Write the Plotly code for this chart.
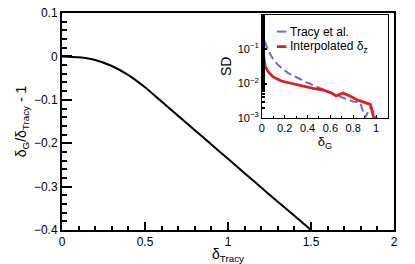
import plotly.graph_objects as go

# Main panel: relative difference vs delta_Tracy
delta_tracy = [0.0, 0.1, 0.2, 0.3, 0.4, 0.5, 0.6, 0.7, 0.8, 0.9, 1.0, 1.1, 1.2, 1.3, 1.4, 1.5]
rel_diff = [0.0, -0.002, -0.008, -0.022, -0.043, -0.071, -0.104, -0.137, -0.170,
            -0.203, -0.236, -0.269, -0.302, -0.335, -0.367, -0.400]

# Inset: SD vs delta_G
tracy_x = [0.0, 0.04, 0.085, 0.14, 0.23, 0.32, 0.4, 0.5, 0.6, 0.7, 0.8, 0.86, 0.905, 0.955, 1.0]
tracy_sd = [0.37, 0.118, 0.060, 0.035, 0.020, 0.0141, 0.0105, 0.0076, 0.0054, 0.0040,
            0.0030, 0.0028, 0.00105, 0.0021, 0.00095]
interp_x = [0.0, 0.015, 0.03, 0.055, 0.096, 0.17, 0.25, 0.35, 0.45, 0.55, 0.61, 0.65,
            0.71, 0.78, 0.84, 0.95, 0.985]
interp_sd = [0.118, 0.060, 0.031, 0.022, 0.0158, 0.0118, 0.0101, 0.0086, 0.0072, 0.0063,
             0.0053, 0.0044, 0.0053, 0.0042, 0.0033, 0.0025, 0.00089]

series_names = ["Tracy et al.", "Interpolated δ<sub>z</sub>"]
series_colors = ["#6b6bdc", "#e01e24"]

main_xticks = [0, 0.5, 1, 1.5, 2]
main_yticks = [0.1, 0, -0.1, -0.2, -0.3, -0.4]
main_yticktext = ["0.1", "0", "−0.1", "−0.2", "−0.3", "−0.4"]
inset_xticks = [0, 0.2, 0.4, 0.6, 0.8, 1]
inset_yticks = [0.001, 0.01, 0.1]
inset_yticktext = ["10<sup>−3</sup>", "10<sup>−2</sup>", "10<sup>−1</sup>"]

FONT = "Liberation Sans, Arial, Helvetica, sans-serif"

fig = go.Figure()
fig.add_trace(go.Scatter(x=delta_tracy, y=rel_diff, mode="lines",
                         line=dict(color="black", width=2, shape="spline", smoothing=0.6),
                         showlegend=False, xaxis="x", yaxis="y"))
fig.add_trace(go.Scatter(x=tracy_x, y=tracy_sd, mode="lines", name=series_names[0],
                         line=dict(color=series_colors[0], width=2, dash="8px,4px"),
                         showlegend=False, xaxis="x2", yaxis="y2"))
fig.add_trace(go.Scatter(x=interp_x, y=interp_sd, mode="lines", name=series_names[1],
                         line=dict(color=series_colors[1], width=2.8),
                         showlegend=False, xaxis="x2", yaxis="y2"))

# manual legend inside the inset
legend_rows = [0.835, 0.69]
for name, color, yy, w in zip(series_names, series_colors, legend_rows, [2, 2.8]):
    fig.add_shape(type="line", xref="x2 domain", yref="y2 domain",
                  x0=0.12, x1=0.195, y0=yy, y1=yy, line=dict(color=color, width=w))
    fig.add_annotation(xref="x2 domain", yref="y2 domain", x=0.205, y=yy, text=name,
                       showarrow=False, xanchor="left", yanchor="middle",
                       font=dict(family=FONT, size=12, color="black"))

axis_common = dict(showgrid=False, zeroline=False, showline=True, linecolor="black",
                   mirror=True, ticks="inside", tickcolor="black", automargin=False,
                   ticklabeloverflow="allow")

fig.update_layout(
    width=415, height=264, autosize=False,
    margin=dict(l=62, r=21, t=13, b=34),
    paper_bgcolor="white", plot_bgcolor="white",
    font=dict(family=FONT, size=12, color="black"),
    xaxis=dict(**axis_common, domain=[0, 1], range=[0, 2], tickvals=main_xticks,
               ticktext=["0", "0.5", "1", "1.5", "2"], linewidth=2, ticklen=8, tickwidth=1.5,
               minor=dict(ticks="inside", dtick=0.1, ticklen=4, tickcolor="black", tickwidth=1.5),
               title=dict(text="δ<sub>Tracy</sub>", font=dict(size=14), standoff=0)),
    yaxis=dict(**axis_common, domain=[0, 1], range=[-0.4, 0.1001], tickvals=main_yticks,
               ticktext=main_yticktext,
               linewidth=2, ticklen=10, tickwidth=1.5,
               minor=dict(ticks="inside", dtick=0.02, ticklen=5, tickcolor="black", tickwidth=1.5),
               title=dict(text="δ<sub>G</sub>/δ<sub>Tracy</sub> - 1", font=dict(size=14), standoff=4)),
    xaxis2=dict(**axis_common, domain=[0.602, 0.982], anchor="y2", range=[0, 1.105],
                tickvals=inset_xticks, ticktext=["0", "0.2", "0.4", "0.6", "0.8", "1"],
                linewidth=1, ticklen=3, tickfont=dict(size=11),
                minor=dict(ticks="inside", dtick=0.1, ticklen=2, tickcolor="black"),
                title=dict(text="δ<sub>G</sub>", font=dict(size=13), standoff=2)),
    yaxis2=dict(**axis_common, domain=[0.516, 0.993], anchor="x2", type="log", range=[-3, 0],
                tickvals=inset_yticks, ticktext=inset_yticktext, linewidth=1, ticklen=5,
                tickwidth=1.5, tickfont=dict(size=11),
                minor=dict(ticks="inside", ticklen=3, tickcolor="black"),
                title=dict(text="SD", font=dict(size=14), standoff=2)),
)

fig.write_html("out.html", config={"displayModeBar": False},
               post_script="document.body.style.margin='0';")
